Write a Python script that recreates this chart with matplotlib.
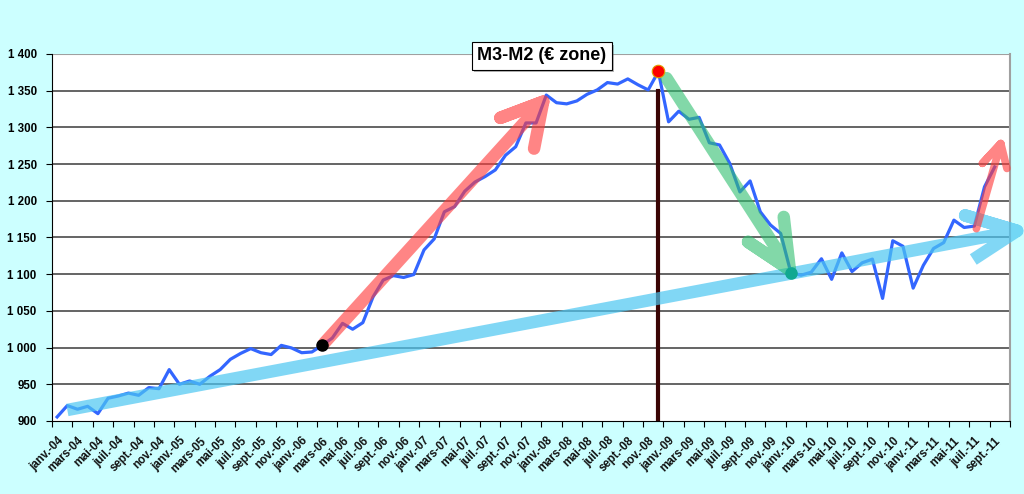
import matplotlib.pyplot as plt
from matplotlib.ticker import FuncFormatter, FixedLocator
import matplotlib.patheffects as pe

plt.rcParams['font.family'] = ['Liberation Sans', 'DejaVu Sans']

# M3-M2, zone euro, mensuel janv-04 .. sept-11 (une catégorie vide en oct-11)
values = [905.5, 921, 916, 920, 910, 931, 934, 938, 935, 945.5, 944, 970,
          950, 954.5, 950, 961, 970, 984, 992, 998.6, 993, 990.5, 1003, 999.5,
          993, 994, 1003, 1013, 1033, 1025, 1034, 1069, 1092, 1098, 1095.5, 1099.5,
          1133, 1148, 1185, 1192, 1213, 1225.5, 1233, 1242, 1262, 1273.6, 1306, 1306,
          1344, 1333.6, 1332, 1336, 1345, 1351, 1361, 1359, 1366, 1358, 1351, 1376,
          1307.5, 1322, 1311, 1313.6, 1279, 1276, 1251, 1212, 1227, 1185, 1167, 1155.5,
          1102, 1098.6, 1102.7, 1121, 1093, 1129, 1103.6, 1115.5, 1120.5, 1067, 1145.5, 1138,
          1081, 1112, 1135, 1143, 1173.6, 1163.6, 1165.5, 1219, 1246]
n_categories = 94

months = ["janv.", "mars", "mai", "juil.", "sept.", "nov."]
years = ["04", "05", "06", "07", "08", "09", "10", "11"]
tick_labels = [f"{m}-{y}" for y in years for m in months][:47]

# points remarquables (indice du mois, valeur)
low_point = (26, 1003)
peak_point = (59, 1377)
trough_point = (72, 1102)
peak_line_top = 1349

# flèches : [départ, pointe, branche, pointe, branche]
blue_arrow = [(1.0, 915), (94.2, 1159), (89.1, 1180), (94.2, 1159), (89.9, 1120)]
red_arrow = [(26.2, 1006), (47.7, 1335), (43.5, 1313), (47.7, 1335), (46.8, 1271)]
green_arrow = [(59.8, 1367), (71.9, 1106), (67.8, 1144), (71.9, 1106), (71.3, 1178)]
small_red_arrow = [(90.2, 1162), (92.6, 1278), (90.8, 1251), (92.6, 1278), (93.2, 1244)]

fig = plt.figure(figsize=(10.24, 4.94), dpi=100, facecolor='#ccffff')
ax = fig.add_axes([0.0508, 0.1478, 0.9355, 0.743])
ax.set_facecolor('white')

ax.set_xlim(-0.5, n_categories - 0.5)
ax.set_ylim(900, 1400)

for y in range(950, 1400, 50):
    ax.axhline(y, color='#3a3a3a', lw=1.1, zorder=1)
ax.axhline(1400, color='#a0a0a0', lw=1.5, zorder=1)

ax.plot([peak_point[0], peak_point[0]], [900, peak_line_top], color='#3a0505', lw=3, zorder=2)


def draw_arrow(pts, color, lw, alpha, cap='round'):
    xs = [p[0] for p in pts]
    ys = [p[1] for p in pts]
    ax.plot(xs, ys, color=color, lw=lw, alpha=alpha, solid_capstyle=cap,
            solid_joinstyle='round', zorder=4, clip_on=False)


draw_arrow(blue_arrow, '#4cc6f2', 9, 0.7, cap='butt')
ax.plot(range(len(values)), values, color='#3366ff', lw=2.3, zorder=3)
draw_arrow(red_arrow, '#ff3b3b', 9, 0.62)
draw_arrow(green_arrow, '#2fbf6f', 9, 0.6)
draw_arrow(small_red_arrow, '#ff3b3b', 5.5, 0.62)

ax.plot(*low_point, 'o', color='black', ms=8, zorder=6)
ax.plot(*peak_point, 'o', color='#ff0000', mec='#e0a000', mew=0.8, ms=9, zorder=6)
ax.plot(*trough_point, 'o', color='#10a890', ms=8, zorder=6)

ax.xaxis.set_major_locator(FixedLocator([-0.5 + 2 * k for k in range(48)]))
ax.xaxis.set_minor_locator(FixedLocator([2 * k for k in range(47)]))
ax.set_xticklabels([])
ax.set_xticklabels(tick_labels, minor=True, rotation=45, ha='right',
                   rotation_mode='anchor', fontsize=8.3, fontweight='bold', color='#111111')
ax.tick_params(axis='x', which='major', length=4, direction='out', color='black')
ax.tick_params(axis='x', which='minor', length=0, pad=10)

ax.yaxis.set_major_locator(FixedLocator(range(900, 1401, 50)))
ax.yaxis.set_major_formatter(FuncFormatter(lambda v, p: f"{int(v):,}".replace(",", " ")))
ax.tick_params(axis='y', length=4, direction='out', labelsize=8.3, pad=7)
for lab in ax.get_yticklabels():
    lab.set_fontweight('bold')

ax.spines['left'].set_color('black')
ax.spines['bottom'].set_color('black')
ax.spines['top'].set_visible(False)
ax.spines['right'].set_color('#a0a0a0')
ax.spines['right'].set_linewidth(1.5)

ax.text(0.511, 0.995, "M3-M2 (€ zone)", transform=ax.transAxes, ha='center', va='center',
        fontsize=13, fontweight='bold', zorder=7,
        bbox=dict(boxstyle='square,pad=0.3', facecolor='white', edgecolor='black', lw=0.8,
                  path_effects=[pe.withSimplePatchShadow(offset=(2, -2), alpha=0.4)]))

fig.savefig('out.png', dpi=100, facecolor=fig.get_facecolor())
